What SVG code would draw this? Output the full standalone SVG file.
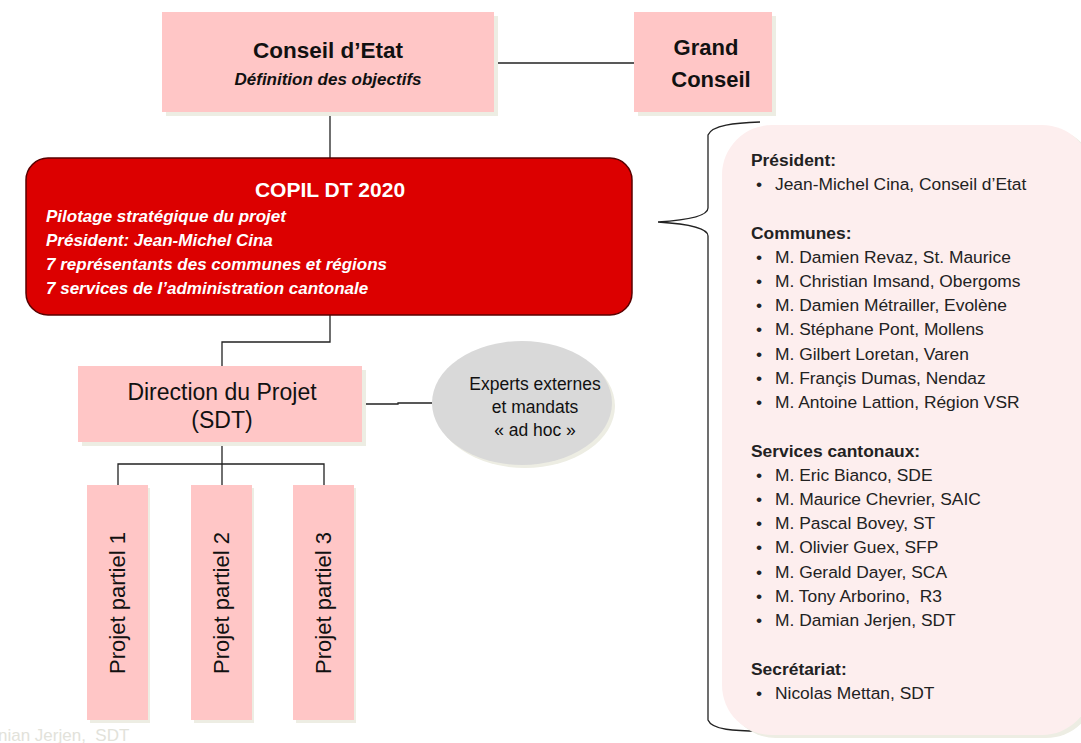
<svg xmlns="http://www.w3.org/2000/svg" width="1081" height="743" viewBox="0 0 1081 743">
<style>
.box{fill:#FFC6C6}
.sh{fill:#EDEDE3}
.ln{stroke:#222;stroke-width:1.3;fill:none}
.t{font-family:"Liberation Sans",Arial,sans-serif;fill:#111}
.b{font-weight:bold}
.w{fill:#fff;font-weight:bold;font-style:italic}
.li{font-family:"Liberation Sans",Arial,sans-serif;font-size:17.4px;fill:#222}
</style>
<rect width="1081" height="743" fill="#fff"/>
<g id="connectors">
<line class="ln" x1="494" y1="63" x2="634" y2="63"/>
<line class="ln" x1="330" y1="112" x2="330" y2="158"/>
<polyline class="ln" points="330,315 330,342 222,342 222,366"/>
<polyline class="ln" points="362,404 398,404 398,403 432,403"/>
<line class="ln" x1="222" y1="442" x2="222" y2="485"/>
<polyline class="ln" points="118,485 118,464 324,464 324,485"/>
</g>
<g id="conseil-etat">
<rect class="sh" x="166" y="16" width="332" height="100"/>
<rect class="box" x="162" y="12" width="332" height="100"/>
<text class="t b" x="328" y="58" font-size="22.5" text-anchor="middle">Conseil d’Etat</text>
<text class="t b" x="328" y="85" font-size="17" font-style="italic" text-anchor="middle">Définition des objectifs</text>
</g>
<g id="grand-conseil">
<rect class="sh" x="638" y="16" width="138" height="100"/>
<rect class="box" x="634" y="12" width="138" height="100"/>
<text class="t b" x="706" y="55" font-size="22" text-anchor="middle">Grand</text>
<text class="t b" x="711" y="87" font-size="22" text-anchor="middle">Conseil</text>
</g>
<g id="copil">
<rect x="26" y="158" width="606" height="157" rx="22" fill="#DC0000" stroke="#5a0000" stroke-width="1.5"/>
<text class="t" x="330" y="197" font-size="21" font-weight="bold" text-anchor="middle" style="fill:#fff">COPIL DT 2020</text>
<text class="t w" x="46" y="222" font-size="17">Pilotage stratégique du projet</text>
<text class="t w" x="46" y="246" font-size="17">Président: Jean-Michel Cina</text>
<text class="t w" x="46" y="270" font-size="17">7 représentants des communes et régions</text>
<text class="t w" x="46" y="294" font-size="17">7 services de l’administration cantonale</text>
</g>
<g id="direction">
<rect class="sh" x="82" y="370" width="284" height="76"/>
<rect class="box" x="78" y="366" width="284" height="76"/>
<text class="t" x="222" y="400" font-size="23" text-anchor="middle">Direction du Projet</text>
<text class="t" x="222" y="428" font-size="23" text-anchor="middle">(SDT)</text>
</g>
<g id="experts">
<ellipse cx="525" cy="406" rx="90" ry="62" fill="#EDEDE3"/>
<ellipse cx="522" cy="403" rx="90" ry="62" fill="#D9D9D9"/>
<text class="t" x="535" y="390" font-size="17.5" text-anchor="middle">Experts externes</text>
<text class="t" x="535" y="413" font-size="17.5" text-anchor="middle">et mandats</text>
<text class="t" x="535" y="436" font-size="17.5" text-anchor="middle">« ad hoc »</text>
</g>
<g id="projet1">
<rect class="sh" x="90" y="488" width="60" height="235"/>
<rect class="box" x="87" y="485" width="61" height="235"/>
<text class="t" transform="translate(125,603) rotate(-90)" font-size="22" text-anchor="middle">Projet partiel 1</text>
</g>
<g id="projet2">
<rect class="sh" x="194" y="488" width="60" height="235"/>
<rect class="box" x="191" y="485" width="61" height="235"/>
<text class="t" transform="translate(229,603) rotate(-90)" font-size="22" text-anchor="middle">Projet partiel 2</text>
</g>
<g id="projet3">
<rect class="sh" x="296" y="488" width="60" height="235"/>
<rect class="box" x="293" y="485" width="61" height="235"/>
<text class="t" transform="translate(331,603) rotate(-90)" font-size="22" text-anchor="middle">Projet partiel 3</text>
</g>
<g id="members">
<path d="M760,122 C735,123 712,125 708,135 L708,208 C708,216 690,220 658,222 C690,224 708,228 708,236 L708,720 C712,730 735,731 760,731" class="ln" stroke-width="1.2"/>
<rect x="726" y="128" width="370" height="610" rx="50" fill="#EDEDE3"/>
<rect x="722" y="125" width="370" height="610" rx="50" fill="#FDEEEE"/>
<text class="li b" x="751" y="166">Président:</text>
<text class="li" x="756" y="190">•</text><text class="li" x="775" y="190">Jean-Michel Cina, Conseil d’Etat</text>
<text class="li b" x="751" y="239">Communes:</text>
<text class="li" x="756" y="263">•</text><text class="li" x="775" y="263">M. Damien Revaz, St. Maurice</text>
<text class="li" x="756" y="287">•</text><text class="li" x="775" y="287">M. Christian Imsand, Obergoms</text>
<text class="li" x="756" y="311">•</text><text class="li" x="775" y="311">M. Damien Métrailler, Evolène</text>
<text class="li" x="756" y="335">•</text><text class="li" x="775" y="335">M. Stéphane Pont, Mollens</text>
<text class="li" x="756" y="360">•</text><text class="li" x="775" y="360">M. Gilbert Loretan, Varen</text>
<text class="li" x="756" y="384">•</text><text class="li" x="775" y="384">M. Françis Dumas, Nendaz</text>
<text class="li" x="756" y="408">•</text><text class="li" x="775" y="408">M. Antoine Lattion, Région VSR</text>
<text class="li b" x="751" y="457">Services cantonaux:</text>
<text class="li" x="756" y="481">•</text><text class="li" x="775" y="481">M. Eric Bianco, SDE</text>
<text class="li" x="756" y="505">•</text><text class="li" x="775" y="505">M. Maurice Chevrier, SAIC</text>
<text class="li" x="756" y="529">•</text><text class="li" x="775" y="529">M. Pascal Bovey, ST</text>
<text class="li" x="756" y="553">•</text><text class="li" x="775" y="553">M. Olivier Guex, SFP</text>
<text class="li" x="756" y="578">•</text><text class="li" x="775" y="578">M. Gerald Dayer, SCA</text>
<text class="li" x="756" y="602" xml:space="preserve">•</text><text class="li" x="775" y="602" xml:space="preserve">M. Tony Arborino,  R3</text>
<text class="li" x="756" y="626">•</text><text class="li" x="775" y="626">M. Damian Jerjen, SDT</text>
<text class="li b" x="751" y="675">Secrétariat:</text>
<text class="li" x="756" y="699">•</text><text class="li" x="775" y="699">Nicolas Mettan, SDT</text>
</g>
<text x="-2" y="741" font-family="Liberation Sans,Arial,sans-serif" font-size="17" fill="#E2E2DA" xml:space="preserve">nian Jerjen,  SDT</text>
</svg>
